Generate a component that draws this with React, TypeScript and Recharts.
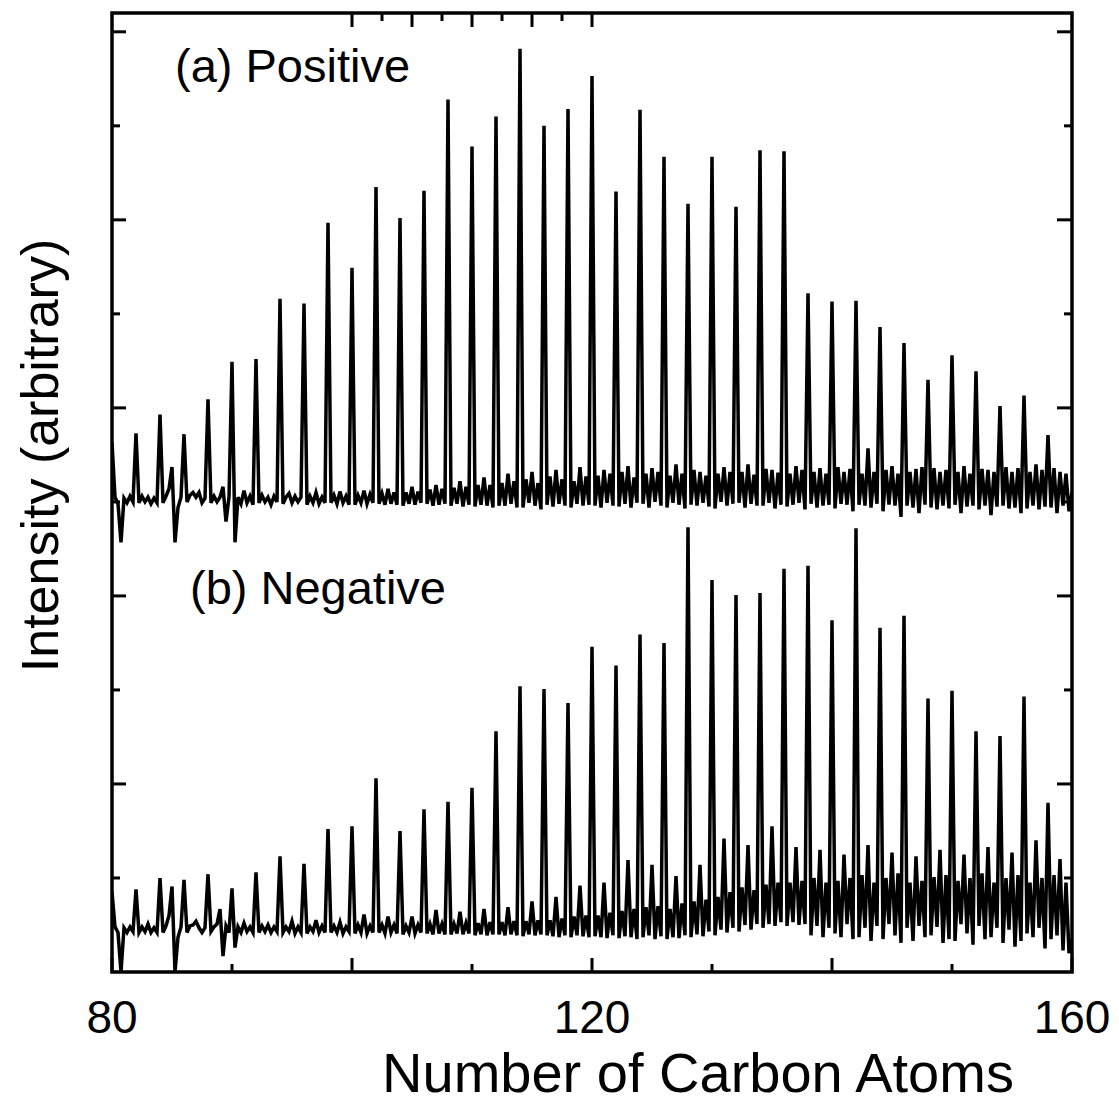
import React from 'react';
import { LineChart, Line, XAxis, YAxis, ReferenceDot, ReferenceArea, Label } from 'recharts';

// carbon numbers of the main (even) cluster peaks
const peakCarbons = [
  80, 82, 84, 86, 88, 90, 92, 94, 96, 98,
  100, 102, 104, 106, 108, 110, 112, 114, 116, 118,
  120, 122, 124, 126, 128, 130, 132, 134, 136, 138,
  140, 142, 144, 146, 148, 150, 152, 154, 156, 158,
];

// peak tops, in axis divisions
const positivePeaks = [
  5.63, 5.73, 5.93, 5.72, 6.09, 6.49, 6.52, 7.16, 7.11, 7.97,
  7.49, 8.35, 8.02, 8.31, 9.28, 8.78, 9.1, 9.82, 9.0, 9.18,
  9.53, 8.3, 9.17, 8.67, 8.17, 8.67, 8.14, 8.74, 8.73, 7.22,
  7.13, 7.14, 6.86, 6.69, 6.3, 6.56, 6.39, 6.02, 6.13, 5.71,
];
const negativePeaks = [
  0.85, 0.88, 1.0, 0.98, 1.04, 0.89, 1.06, 1.23, 1.15, 1.52,
  1.55, 2.06, 1.5, 1.73, 1.81, 1.96, 2.56, 3.04, 3.01, 2.86,
  3.46, 3.26, 3.59, 3.5, 4.73, 4.17, 4.01, 4.03, 4.29, 4.32,
  3.74, 4.72, 3.66, 3.79, 2.91, 2.99, 2.56, 2.51, 2.93, 1.8,
];

const baseA = 5.02;
const baseB = 0.45;
const sampleStep = 0.25; // carbon units between samples

// baseline noise, hundredths of a division, one row per 2 carbons (80 .. 158) + last sample
const noiseA = [
  0, 3, -4, -45, 2, -3, 4, -2,
  0, -3, 4, -2, 3, -4, 2, -3,
  0, -3, 4, 12, 35, -45, -8, 3,
  0, -2, 5, 8, 3, 8, -3, 2,
  0, -3, 4, -2, 3, 14, -23, 3,
  0, -45, 3, -4, 10, -3, 4, -5,
  0, -3, 5, -2, 3, -5, 4, -2,
  0, -4, 3, 7, -3, 4, -2, 3,
  0, -5, 4, -3, 8, -4, 3, -3,
  0, -3, 5, -4, 9, -3, 4, -5,
  0, -5, 5, -3, 10, -4, 6, -3,
  0, -4, 7, -5, 12, -4, 8, -5,
  0, -6, 8, -4, 14, -5, 9, -3,
  0, -4, 11, -6, 16, -5, 12, -4,
  0, -6, 13, -4, 20, -7, 14, -5,
  0, -7, 16, -5, 24, -6, 16, -8,
  0, -6, 18, -6, 28, -4, 20, -8,
  0, -8, 22, -3, 30, -6, 18, -10,
  0, -5, 25, -7, 32, -4, 22, -6,
  0, -8, 20, -4, 35, -6, 25, -5,
  0, -6, 26, -8, 32, -3, 28, -6,
  0, -7, 30, -4, 36, -8, 24, -3,
  0, -4, 28, -8, 34, -2, 30, -6,
  0, -8, 26, -3, 38, -5, 28, -9,
  0, -5, 32, -6, 30, -3, 26, -7,
  0, -9, 28, -2, 35, -6, 30, -4,
  0, -3, 30, -8, 38, -4, 27, -6,
  0, -6, 33, -3, 32, -9, 29, -5,
  0, -7, 28, -5, 36, -3, 32, -10,
  0, -4, 30, -8, 34, -6, 28, -5,
  0, -9, 35, -4, 30, -5, 33, -12,
  0, -5, 28, -6, 55, -8, 30, -4,
  0, -12, 32, -5, 36, -6, 28, -18,
  0, -6, 30, -8, 33, -14, 35, -5,
  0, -8, 34, -10, 30, -6, 32, -9,
  0, -5, 30, -14, 36, -7, 28, -6,
  0, -10, 33, -6, 32, -16, 30, -7,
  0, -6, 35, -9, 30, -8, 34, -14,
  0, -9, 30, -6, 38, -10, 32, -7,
  0, -8, 34, -14, 30, -6, 28, -12,
  8,
];
const noiseB = [
  0, 3, -3, -45, 2, -3, 3, -2,
  0, -3, 3, -2, 6, -3, 2, -3,
  0, -3, 4, 15, 46, -45, -8, 3,
  0, -3, 4, 5, 9, 2, -3, 2,
  0, -2, 3, 6, 22, -28, 4, -3,
  0, -19, 3, -3, 7, -2, 3, -3,
  0, -3, 4, -2, 5, -3, 3, -2,
  0, -3, 3, -2, 9, -4, 3, -3,
  0, -4, 3, -2, 10, -3, 4, -3,
  0, -3, 4, -3, 8, -4, 3, -2,
  0, -4, 5, -3, 16, -4, 4, -3,
  0, -3, 5, -4, 14, -3, 5, -4,
  0, -5, 4, -3, 14, -4, 5, -3,
  0, -4, 6, -5, 21, -4, 6, -5,
  0, -5, 6, -4, 19, -5, 7, -4,
  0, -6, 7, -5, 22, -6, 8, -5,
  0, -5, 8, -6, 24, -5, 9, -6,
  0, -7, 9, -5, 30, -6, 10, -5,
  0, -6, 10, -7, 35, -8, 12, -6,
  0, -8, 14, -6, 47, -7, 15, -8,
  0, -7, 15, -8, 50, -9, 18, -6,
  0, -9, 20, -7, 74, -8, 22, -10,
  0, -8, 24, -6, 69, -10, 25, -7,
  0, -10, 22, -8, 57, -9, 28, -6,
  0, -8, 30, -5, 69, -7, 32, -2,
  0, -6, 35, 0, 97, -3, 40, 2,
  0, -2, 45, 5, 90, 0, 42, 6,
  0, 2, 48, 6, 110, 4, 50, 8,
  0, 4, 50, 8, 88, 5, 52, 6,
  0, -6, 55, 4, 85, -8, 50, 2,
  0, -4, 52, -8, 80, 6, 55, -10,
  0, -8, 58, 2, 90, -12, 50, 4,
  0, -10, 55, 6, 82, -6, 60, -14,
  0, 2, 50, -12, 78, 4, 52, -8,
  0, -6, 56, 3, 85, -14, 58, -10,
  0, -12, 52, 6, 80, -4, 55, -16,
  0, 4, 60, -10, 88, -8, 50, 2,
  0, -14, 55, 0, 82, -18, 58, -12,
  0, -4, 50, -8, 95, 2, 55, -20,
  0, -10, 58, -6, 75, -22, 50, -25,
  -10,
];

const xTicks = [80, 90, 100, 110, 120, 130, 140, 150, 160];
const xMajorTicks = [80, 100, 120, 140, 160];
const xTickLabels = [80, 120, 160];
const yTicks = [1, 2, 3, 4, 5, 6, 7, 8, 9, 10];
const yMajorTicks = [2, 4, 6, 8, 10];
const xDomain = [80, 160];
const yDomain = [0, 10.2];

const annotations = [
  { text: '(a) Positive', carbon: 85.25, level: 9.47 },
  { text: '(b) Negative', carbon: 86.5, level: 3.91 },
];

const data = noiseA.map((na, i) => {
  const x = 80 + i * sampleStep;
  const p = peakCarbons.indexOf(x);
  return {
    x,
    a: p >= 0 ? positivePeaks[p] : baseA + na / 100,
    b: p >= 0 ? negativePeaks[p] : baseB + noiseB[i] / 100,
  };
});

const FONT = '"Liberation Sans", Arial, Helvetica, sans-serif';
const TICK_W = 3;

const bottomTick = (props: any) => {
  const { x, y, payload } = props;
  const len = xMajorTicks.includes(payload.value) ? 14 : 8;
  return (
    <g>
      <line x1={x} y1={y} x2={x} y2={y - len} stroke="#000" strokeWidth={TICK_W} />
      {xTickLabels.includes(payload.value) && (
        <text x={x} y={y + 61} textAnchor="middle" fontSize={46} fontFamily={FONT} fill="#000">
          {payload.value}
        </text>
      )}
    </g>
  );
};

const topTick = (props: any) => {
  const { x, y, payload } = props;
  const len = xMajorTicks.includes(payload.value) ? 14 : 8;
  return <line x1={x} y1={y} x2={x} y2={y + len} stroke="#000" strokeWidth={TICK_W} />;
};

const leftTick = (props: any) => {
  const { x, y, payload } = props;
  const len = yMajorTicks.includes(payload.value) ? 14 : 8;
  return <line x1={x} y1={y} x2={x + len} y2={y} stroke="#000" strokeWidth={TICK_W} />;
};

const rightTick = (props: any) => {
  const { x, y, payload } = props;
  const len = yMajorTicks.includes(payload.value) ? 15 : 8;
  return <line x1={x} y1={y} x2={x - len} y2={y} stroke="#000" strokeWidth={TICK_W} />;
};

export default function App() {
  return (
    <div style={{ width: 1119, height: 1104 }}>
      <style>{'html,body{margin:0;padding:0;overflow:hidden;background:#fff}'}</style>
      <LineChart width={1119} height={1104} data={data} margin={{ top: 12, right: 46, bottom: 0, left: 0 }}>
        <XAxis
          dataKey="x"
          type="number"
          domain={xDomain}
          ticks={xTicks}
          interval={0}
          allowDataOverflow
          tickSize={0}
          tickMargin={0}
          tick={bottomTick}
          axisLine={false}
          height={132}
        >
          <Label
            content={(p: any) => {
              const vb = p.viewBox;
              return (
                <text x={vb.x + vb.width / 2 + 106} y={vb.y + 120} textAnchor="middle" fontSize={56} fontFamily={FONT} fill="#000">
                  Number of Carbon Atoms
                </text>
              );
            }}
          />
        </XAxis>
        <XAxis
          xAxisId="top"
          orientation="top"
          type="number"
          domain={xDomain}
          ticks={xTicks}
          interval={0}
          allowDataOverflow
          tickSize={0}
          tickMargin={0}
          tick={topTick}
          axisLine={false}
          height={1}
        />
        <YAxis
          type="number"
          domain={yDomain}
          ticks={yTicks}
          interval={0}
          allowDataOverflow
          tickSize={0}
          tickMargin={0}
          tick={leftTick}
          axisLine={false}
          width={112}
        >
          <Label
            content={(p: any) => {
              const vb = p.viewBox;
              const cx = vb.x + 58;
              const cy = vb.y + vb.height / 2 - 37;
              return (
                <text transform={`translate(${cx},${cy}) rotate(-90)`} textAnchor="middle" fontSize={52} fontFamily={FONT} fill="#000">
                  Intensity (arbitrary)
                </text>
              );
            }}
          />
        </YAxis>
        <YAxis
          yAxisId="right"
          orientation="right"
          type="number"
          domain={yDomain}
          ticks={yTicks}
          interval={0}
          allowDataOverflow
          tickSize={0}
          tickMargin={0}
          tick={rightTick}
          axisLine={false}
          width={1}
        />
        <Line dataKey="a" type="linear" stroke="#000" strokeWidth={3.5} dot={false} isAnimationActive={false} />
        <Line dataKey="b" type="linear" stroke="#000" strokeWidth={3.5} dot={false} isAnimationActive={false} />
        <ReferenceArea
          x1={xDomain[0]}
          x2={xDomain[1]}
          y1={yDomain[0]}
          y2={yDomain[1]}
          fill="none"
          fillOpacity={0}
          stroke="#000"
          strokeWidth={3.5}
          strokeOpacity={1}
          ifOverflow="visible"
        />
        {annotations.map((a) => (
          <ReferenceDot
            key={a.text}
            x={a.carbon}
            y={a.level}
            r={1}
            ifOverflow="visible"
            shape={(p: any) => (
              <text x={p.cx} y={p.cy} fontSize={47} fontFamily={FONT} fill="#000">
                {a.text}
              </text>
            )}
          />
        ))}
      </LineChart>
    </div>
  );
}
